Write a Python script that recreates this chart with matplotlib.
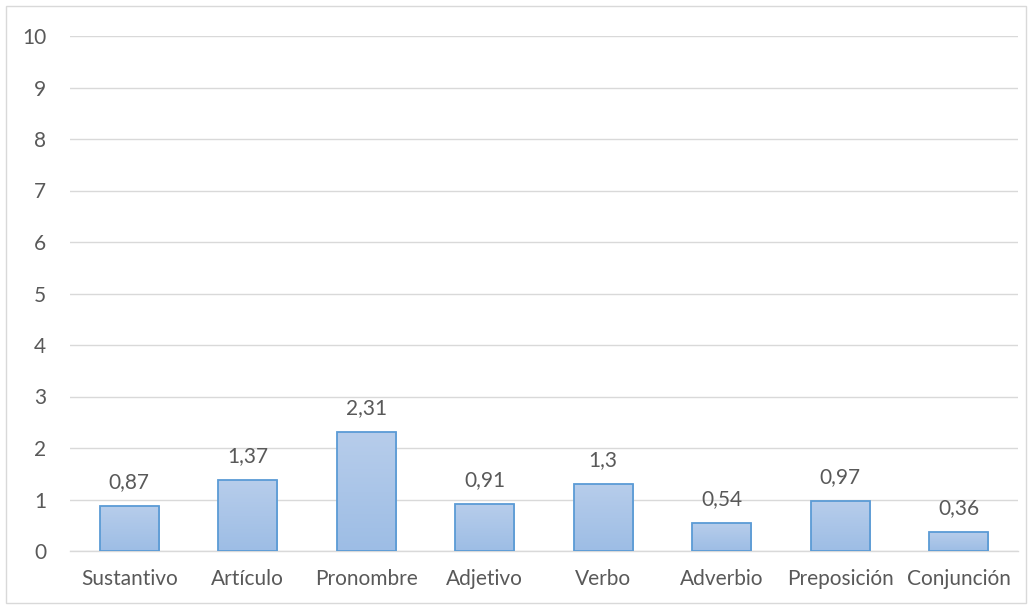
import matplotlib
matplotlib.use("Agg")
import matplotlib.pyplot as plt
import numpy as np
from matplotlib.patches import Rectangle
from matplotlib.colors import LinearSegmentedColormap

categories = ["Sustantivo", "Artículo", "Pronombre", "Adjetivo", "Verbo",
              "Adverbio", "Preposición", "Conjunción"]
values = [0.87, 1.37, 2.31, 0.91, 1.3, 0.54, 0.97, 0.36]
labels = ["0,87", "1,37", "2,31", "0,91", "1,3", "0,54", "0,97", "0,36"]
yticks = list(range(0, 11))

plt.rcParams['font.family'] = ['Lato', 'DejaVu Sans']
txt = "#595959"
fs = 15

fig = plt.figure(figsize=(10.32, 6.09), dpi=100)
fig.patches.append(Rectangle((6/1032, 6/609), 1020/1032, 597/609, transform=fig.transFigure,
                             fill=False, edgecolor="#d9d9d9", linewidth=1.0))
ax = fig.add_axes([70/1032, 1 - 551/609, 948/1032, 515/609])

x = np.arange(len(categories))
bars = ax.bar(x, values, width=0.5, facecolor="none", edgecolor="#5b9bd5", linewidth=1.3, zorder=3)
cmap = LinearSegmentedColormap.from_list("g", ["#9dbde5", "#b7cdeb"])
grad = np.linspace(0, 1, 100).reshape(-1, 1)
for b in bars:
    x0, y0 = b.get_x(), b.get_y()
    w, h = b.get_width(), b.get_height()
    im = ax.imshow(grad, extent=[x0, x0 + w, y0, y0 + h], origin="lower", cmap=cmap,
                   aspect="auto", zorder=2)
    im.set_clip_path(b)

for xi, v, l in zip(x, values, labels):
    ax.text(xi, v + 0.47, l, ha="center", va="center", fontsize=fs, color=txt)

ax.set_xlim(-0.5, len(categories) - 0.5)
ax.set_ylim(0, 10)
ax.set_yticks(yticks)
ax.set_yticklabels([str(t) for t in yticks], color=txt, fontsize=fs)
ax.set_xticks(x)
ax.set_xticklabels(categories, color=txt, fontsize=fs)
ax.tick_params(length=0)
ax.tick_params(axis="x", pad=13)
ax.tick_params(axis="y", pad=17)
ax.grid(axis="y", color="#d9d9d9", linewidth=1.0, zorder=0)
ax.set_axisbelow(True)
for s in ["top", "right", "left"]:
    ax.spines[s].set_visible(False)
ax.spines["bottom"].set_color("#d9d9d9")
ax.spines["bottom"].set_linewidth(1.0)

fig.savefig("out.png", dpi=100)
